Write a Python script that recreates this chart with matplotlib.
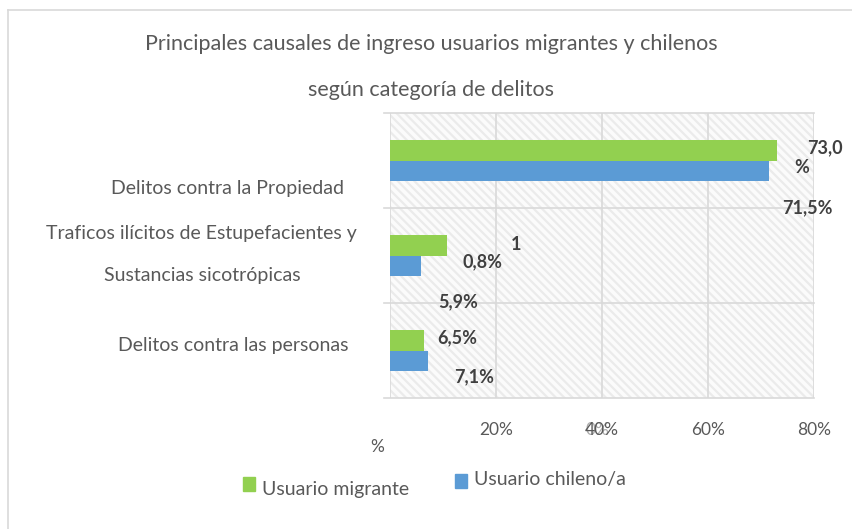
"""
Principales causales de ingreso: usuarios migrantes vs chilenos.
"""
import matplotlib
matplotlib.use('Agg')
import matplotlib.pyplot as plt
import numpy as np
from matplotlib.patches import Rectangle

categorias = ['Delitos contra la Propiedad',
              'Traficos ilícitos de Estupefacientes y\n\nSustancias sicotrópicas',
              'Delitos contra las personas']
migrante = [73.0, 10.8, 6.5]
chileno = [71.5, 5.9, 7.1]
xticks = [0, 20, 40, 60, 80]

verde = '#92d050'
azul = '#5b9bd5'
gris = '#595959'
grid_c = '#d9d9d9'
plt.rcParams['font.family'] = ['Lato', 'DejaVu Sans']
plt.rcParams['hatch.linewidth'] = 1.6

def fmt(v):
    return ('%.1f%%' % v).replace('.', ',')

fig = plt.figure(figsize=(8.52, 5.29), dpi=100)
ax = fig.add_axes([390/852, 131/529, 424/852, 285/529])

y = np.arange(len(categorias))
h = 0.22
ax.barh(y - h/2, migrante, height=h, color=verde, zorder=3)
ax.barh(y + h/2, chileno, height=h, color=azul, zorder=3)

ax.set_xlim(0, 80)
ax.set_ylim(2.5, -0.5)

# patterned plot background
ax.add_patch(Rectangle((0, -0.5), 80, 3, facecolor='#fbfbfb', edgecolor='#ebebeb',
                       hatch='\\\\\\\\', lw=0, zorder=0))
for xv in xticks:
    ax.axvline(xv, color=grid_c, lw=1.2, zorder=1)
for yv in [-0.5, 0.5, 1.5, 2.5]:
    ax.plot([-1.2, 80], [yv, yv], color=grid_c, lw=1.2, zorder=1, clip_on=False)
for s in ax.spines.values():
    s.set_visible(False)
ax.set_xticks([])
ax.set_yticks([])

# tick labels (as in the source, slightly out of place)
tk = dict(ha='center', va='center', fontsize=12.5, color=gris)
for xv in xticks[1:]:
    ax.text(xv, 2.5 + 0.34, '%d%%' % xv, **tk)
ax.text(-2.5, 2.5 + 0.52, '%', **tk)
ax.text(40 - 0.9, 2.5 + 0.34, '0%', alpha=0.5, **tk)

# category labels
ck = dict(ha='center', va='center', fontsize=14, color=gris)
lines = categorias[1].split('\n\n')
ax.text(-30.6, 0.29, categorias[0], **ck)
ax.text(-35.5, 0.77, lines[0], **ck)
ax.text(-35.5, 1.21, lines[1], **ck)
ax.text(-29.6, 1.95, categorias[2], **ck)

# data labels, placed the way the original rendered them
kw = dict(ha='center', va='center', fontsize=13, color='#404040', fontweight='bold')
m0 = fmt(migrante[0])
ax.text(migrante[0] + 9.0, -0.13, m0[:-1], clip_on=False, **kw)
ax.text(migrante[0] + 4.7, 0.07, m0[-1], **kw)
ax.text(chileno[0] + 7.3, 0.5, fmt(chileno[0]), **kw)
m1 = fmt(migrante[1])
ax.text(migrante[1] + 13.0, 0.88, m1[0], **kw)
ax.text(migrante[1] + 6.7, 1.07, m1[1:], **kw)
ax.text(chileno[1] + 7.0, 1.49, fmt(chileno[1]), **kw)
ax.text(migrante[2] + 6.2, 1.87, fmt(migrante[2]), **kw)
ax.text(chileno[2] + 8.8, 2.28, fmt(chileno[2]), **kw)

# title
tt = dict(ha='center', va='center', fontsize=15.5, color=gris)
fig.text(431/852, 1 - 44/529, 'Principales causales de ingreso usuarios migrantes y chilenos', **tt)
fig.text(431/852, 1 - 90/529, 'según categoría de delitos', **tt)

# legend
fig.patches.append(Rectangle((243/852, 1 - 491/529), 12/852, 14/529, color=verde,
                             transform=fig.transFigure, figure=fig))
fig.text(262/852, 1 - 490/529, 'Usuario migrante', ha='left', va='center',
         fontsize=14, color=gris)
fig.patches.append(Rectangle((455/852, 1 - 488/529), 12/852, 14/529, color=azul,
                             transform=fig.transFigure, figure=fig))
fig.text(474/852, 1 - 479/529, 'Usuario chileno/a', ha='left', va='center',
         fontsize=14, color=gris)

# outer chart border (top and left only visible in the crop)
fig.add_artist(plt.Line2D([8/852, 1], [1 - 10/529, 1 - 10/529], color=grid_c, lw=1.2,
                          transform=fig.transFigure))
fig.add_artist(plt.Line2D([8/852, 8/852], [0, 1 - 10/529], color=grid_c, lw=1.2,
                          transform=fig.transFigure))

fig.savefig('out.png', dpi=100, facecolor='white')
